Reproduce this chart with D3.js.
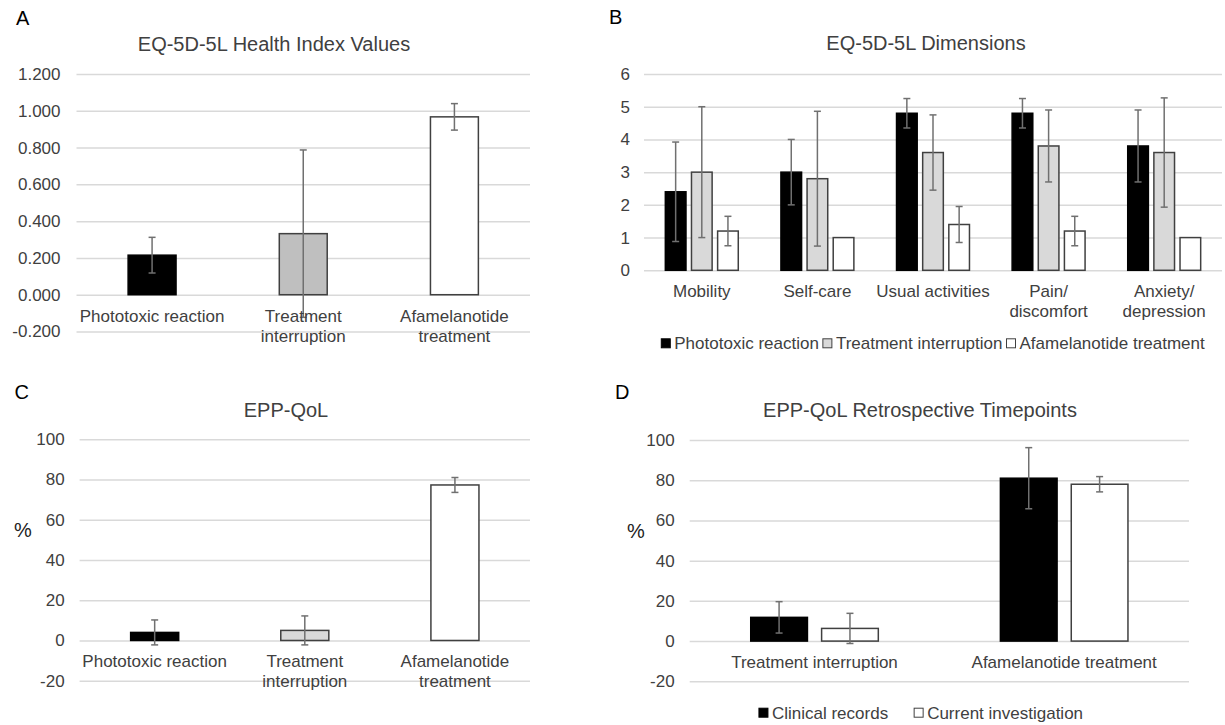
<!DOCTYPE html>
<html>
<head>
<meta charset="utf-8">
<script src="https://cdn.jsdelivr.net/npm/d3@7"></script>
<style>
  body { margin: 0; background: #fff; }
  svg text { font-family: "Liberation Sans", Arial, sans-serif; fill: #404040; }
</style>
</head>
<body>
<svg id="fig" width="1225" height="725"></svg>
<script>
// A: EQ-5D-5L health index values
const phases = ['Phototoxic reaction', 'Treatment interruption', 'Afamelanotide treatment'];
const phaseLines = [['Phototoxic reaction'], ['Treatment', 'interruption'], ['Afamelanotide', 'treatment']];
const healthIndex = [0.215, 0.332, 0.967];
const healthIndexErr = [0.097, 0.455, 0.072];
const healthTicks = [-0.2, 0, 0.2, 0.4, 0.6, 0.8, 1.0, 1.2];

// B: EQ-5D-5L dimensions
const dimensions = ['Mobility', 'Self-care', 'Usual activities', 'Pain/discomfort', 'Anxiety/depression'];
const dimensionLines = [['Mobility'], ['Self-care'], ['Usual activities'], ['Pain/', 'discomfort'], ['Anxiety/', 'depression']];
const dimPhototoxic = [2.4, 3.0, 4.8, 4.8, 3.8];
const dimPhototoxicErr = [1.52, 1.0, 0.45, 0.45, 1.1];
const dimInterruption = [3.0, 2.8, 3.6, 3.8, 3.6];
const dimInterruptionErr = [2.0, 2.06, 1.15, 1.1, 1.67];
const dimAfamelanotide = [1.2, 1.0, 1.4, 1.2, 1.0];
const dimAfamelanotideErr = [0.45, 0, 0.55, 0.45, 0];
const dimTicks = [0, 1, 2, 3, 4, 5, 6];

// C: EPP-QoL
const eppQol = [4.0, 5.0, 77.3];
const eppQolErr = [6.2, 7.2, 3.7];
const pctTicks = [-20, 0, 20, 40, 60, 80, 100];

// D: EPP-QoL retrospective timepoints
const retroGroups = ['Treatment interruption', 'Afamelanotide treatment'];
const retroLines = [['Treatment interruption'], ['Afamelanotide treatment']];
const retroClinical = [11.8, 81.0];
const retroClinicalErr = [7.8, 15.2];
const retroCurrent = [6.3, 78.0];
const retroCurrentErr = [7.5, 3.8];

const svg = d3.select('#fig');
const FONT = 17;

function drawPanel(o) {
  let g = svg.append('g');
  let y = d3.scaleLinear().domain(d3.extent(o.ticks)).range([o.bottom, o.top]);
  let x0 = d3.scaleBand().domain(o.categories).range([o.left, o.right])
    .paddingInner(o.pad).paddingOuter(o.pad / 2);
  let x1 = d3.scaleBand().domain(o.series.map(s => s.name)).range([0, x0.bandwidth()])
    .paddingInner(o.innerPad || 0);

  // gridlines
  g.append('g').attr('transform', `translate(${o.left},0)`)
    .call(d3.axisLeft(y).tickValues(o.ticks).tickSize(-(o.right - o.left)).tickFormat(''))
    .call(a => a.select('.domain').remove())
    .call(a => a.selectAll('line').attr('stroke', '#d9d9d9').attr('stroke-width', 1.5));

  // tick labels
  g.append('g').attr('transform', `translate(${o.left - o.labelPad},0)`)
    .call(d3.axisLeft(y).tickValues(o.ticks).tickSize(0).tickPadding(0).tickFormat(o.fmt))
    .call(a => a.select('.domain').remove())
    .call(a => a.selectAll('text').style('font-size', FONT + 'px'));

  // bars
  o.series.forEach(s => {
    g.append('g').selectAll('rect')
      .data(s.values)
      .join('rect')
      .attr('x', (d, i) => x0(o.categories[i]) + x1(s.name))
      .attr('y', d => y(Math.max(0, d)))
      .attr('width', x1.bandwidth())
      .attr('height', d => Math.abs(y(d) - y(0)))
      .attr('fill', (d, i) => Array.isArray(s.fill) ? s.fill[i] : s.fill)
      .attr('stroke', (d, i) => {
        let f = Array.isArray(s.fill) ? s.fill[i] : s.fill;
        return f == '#000000' ? '#000000' : '#404040';
      })
      .attr('stroke-width', 1.5);
  });

  // error bars
  o.series.forEach(s => {
    s.values.forEach((v, i) => {
      let e = s.errors[i];
      if (!e) return;
      let cx = x0(o.categories[i]) + x1(s.name) + x1.bandwidth() / 2;
      let eg = g.append('g').attr('stroke', '#707070').attr('stroke-width', 1.5);
      eg.append('line').attr('x1', cx).attr('x2', cx).attr('y1', y(v - e)).attr('y2', y(v + e));
      [v - e, v + e].forEach(t => {
        eg.append('line').attr('x1', cx - 3.5).attr('x2', cx + 3.5).attr('y1', y(t)).attr('y2', y(t));
      });
    });
  });

  // category labels
  let labels = g.append('g').selectAll('text')
    .data(o.categories)
    .join('text')
    .attr('text-anchor', 'middle')
    .style('font-size', FONT + 'px');
  labels.each(function(c, i) {
    let t = d3.select(this);
    o.lines[i].forEach((ln, k) => {
      t.append('tspan')
        .attr('x', x0(c) + x0.bandwidth() / 2)
        .attr('y', y(0) + 21 + k * 20)
        .attr('dy', '0.35em')
        .text(ln);
    });
  });

  // title and panel letter
  g.append('text').attr('x', o.titleX).attr('y', o.titleY).attr('dy', '0.35em')
    .attr('text-anchor', 'middle').style('font-size', '20px').text(o.title);
  g.append('text').attr('x', o.letterX).attr('y', o.letterY).attr('dy', '0.35em')
    .style('font-size', '20px').style('fill', '#000').text(o.letter);

  if (o.yLabel) {
    g.append('text').attr('x', o.yLabelX).attr('y', (o.top + o.bottom) / 2 - 30).attr('dy', '0.35em')
      .attr('text-anchor', 'middle').style('font-size', '20px').style('fill', '#222').text(o.yLabel);
  }

  if (o.legend) {
    let lg = g.append('g');
    let xpos = 0;
    o.series.forEach((s, i) => {
      let item = lg.append('g').attr('transform', `translate(${xpos},0)`);
      item.append('rect').attr('x', 0).attr('y', -4.5).attr('width', 9).attr('height', 9)
        .attr('fill', s.fill).attr('stroke', s.fill == '#000000' ? '#000' : '#404040').attr('stroke-width', 1);
      let tx = item.append('text').attr('x', 13).attr('dy', '0.35em')
        .style('font-size', FONT + 'px').text(s.name);
      xpos += 13 + tx.node().getComputedTextLength() + o.legendGap;
    });
    let w = xpos - o.legendGap;
    lg.attr('transform', `translate(${o.legendX - w / 2},${o.legendY})`);
  }
}

drawPanel({
  left: 76.5, right: 530, top: 74, bottom: 331.5,
  ticks: healthTicks, fmt: d => d.toFixed(3), labelPad: 16,
  categories: phases, lines: phaseLines, pad: 0.683,
  series: [{ name: 'Health index', values: healthIndex, errors: healthIndexErr,
    fill: ['#000000', '#bfbfbf', '#ffffff'] }],
  title: 'EQ-5D-5L Health Index Values', titleX: 274, titleY: 43.5,
  letter: 'A', letterX: 16, letterY: 18
});

drawPanel({
  left: 644, right: 1222, top: 74, bottom: 270.3,
  ticks: dimTicks, fmt: d => String(d), labelPad: 14,
  categories: dimensions, lines: dimensionLines, pad: 0.369, innerPad: 0.21,
  series: [
    { name: 'Phototoxic reaction', values: dimPhototoxic, errors: dimPhototoxicErr, fill: '#000000' },
    { name: 'Treatment interruption', values: dimInterruption, errors: dimInterruptionErr, fill: '#d9d9d9' },
    { name: 'Afamelanotide treatment', values: dimAfamelanotide, errors: dimAfamelanotideErr, fill: '#ffffff' }
  ],
  title: 'EQ-5D-5L Dimensions', titleX: 926, titleY: 43.3,
  letter: 'B', letterX: 609, letterY: 17,
  legend: true, legendX: 933, legendY: 343.3, legendGap: 4
});

drawPanel({
  left: 79.6, right: 530, top: 439.3, bottom: 680.7,
  ticks: pctTicks, fmt: d => String(d), labelPad: 15,
  categories: phases, lines: phaseLines, pad: 0.68,
  series: [{ name: 'EPP-QoL', values: eppQol, errors: eppQolErr,
    fill: ['#000000', '#d9d9d9', '#ffffff'] }],
  title: 'EPP-QoL', titleX: 286, titleY: 410,
  letter: 'C', letterX: 14.5, letterY: 392,
  yLabel: '%', yLabelX: 23
});

drawPanel({
  left: 689.7, right: 1189, top: 440, bottom: 681.3,
  ticks: pctTicks, fmt: d => String(d), labelPad: 15,
  categories: retroGroups, lines: retroLines, pad: 0.489, innerPad: 0.2,
  series: [
    { name: 'Clinical records', values: retroClinical, errors: retroClinicalErr, fill: '#000000' },
    { name: 'Current investigation', values: retroCurrent, errors: retroCurrentErr, fill: '#ffffff' }
  ],
  title: 'EPP-QoL Retrospective Timepoints', titleX: 920, titleY: 410,
  letter: 'D', letterX: 615, letterY: 392,
  yLabel: '%', yLabelX: 636,
  legend: true, legendX: 921, legendY: 712.7, legendGap: 26
});
</script>
</body>
</html>
